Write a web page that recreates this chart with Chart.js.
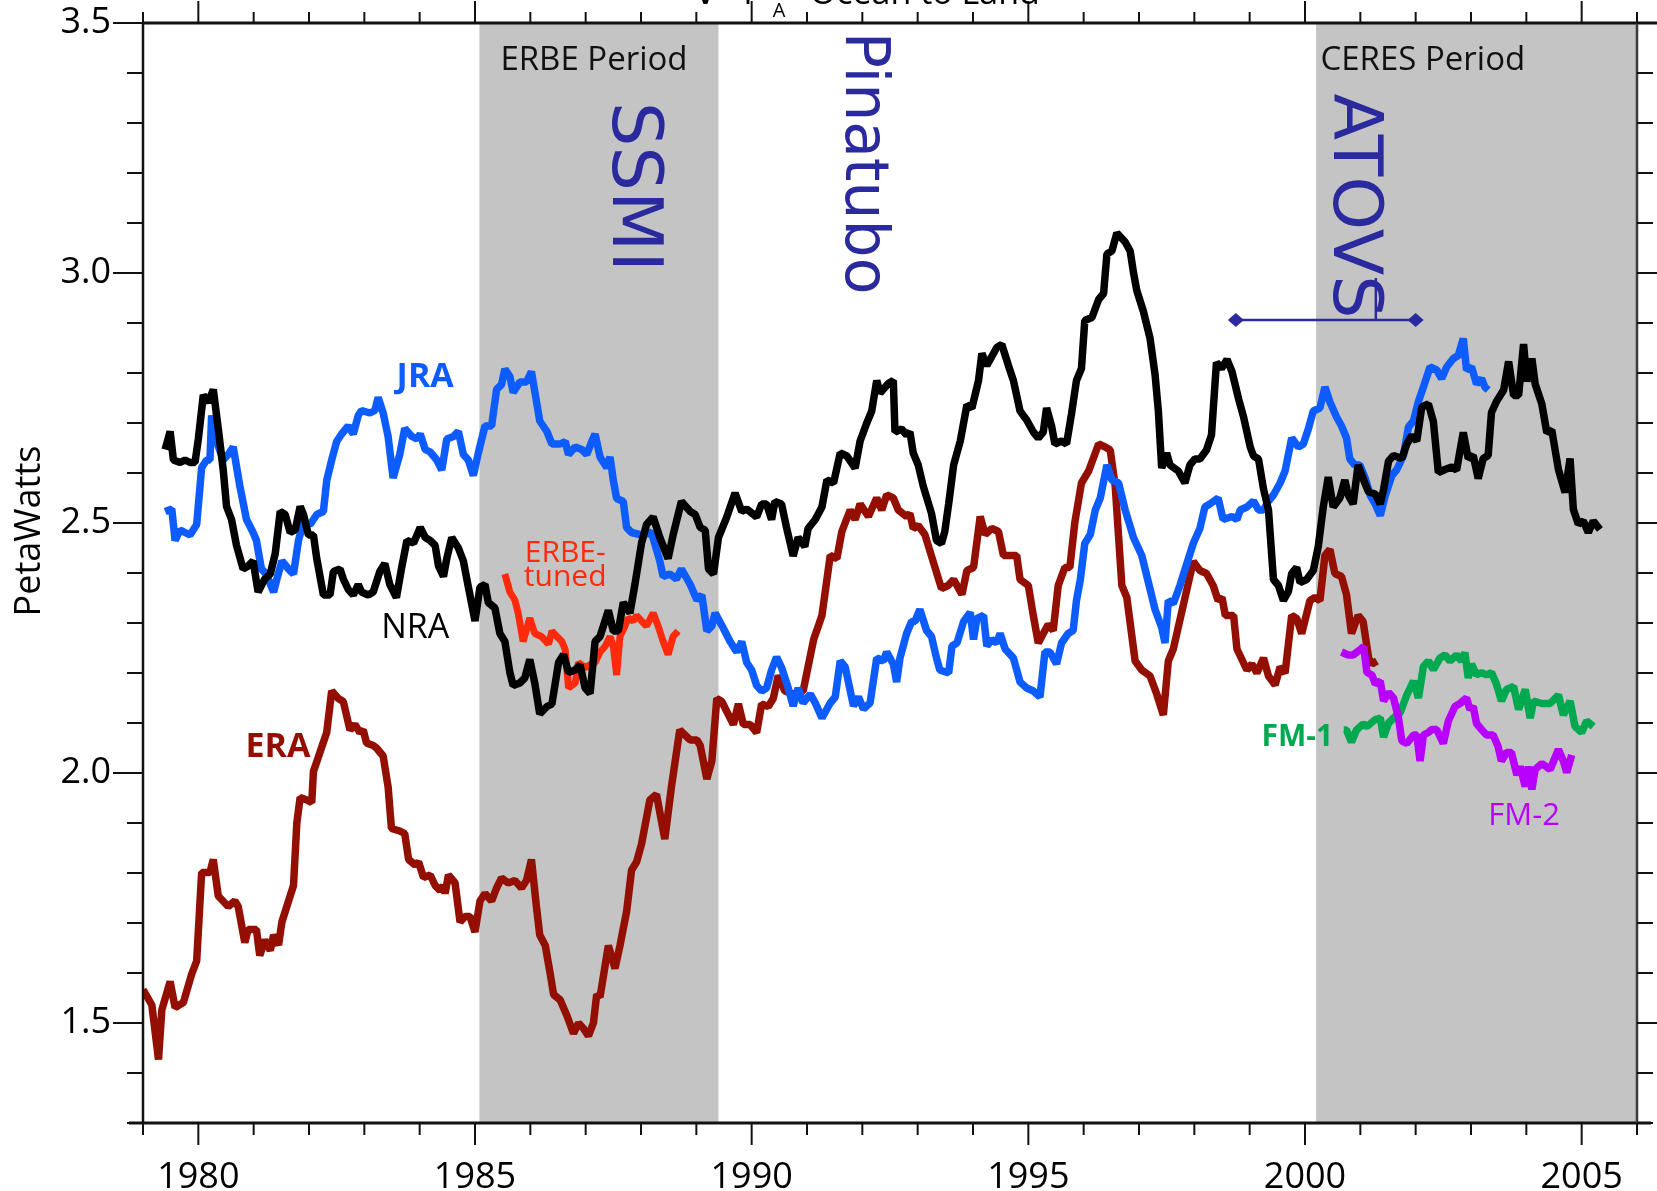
<!DOCTYPE html>
<html>
<head>
<meta charset="utf-8">
<title>Ocean to Land</title>
<script src="https://cdn.jsdelivr.net/npm/chart.js@4.4.1/dist/chart.umd.min.js"></script>
<style>
    html, body { margin: 0; padding: 0; background: #ffffff; }
    #chart { display: block; }
</style>
</head>
<body>
<canvas id="chart" width="1657" height="1191"></canvas>
<script>

// axis ranges
const yearMin = 1979;
const yearMax = 2006;
const valueMin = 1.3;
const valueMax = 3.5;

// observing periods (shaded)
const periodNames = ['ERBE Period', 'CERES Period'];
const periodStarts = [1985.08, 2000.2];
const periodEnds = [1989.4, 2006];

// satellite events
const eventNames = ['SSMI', 'Pinatubo', 'ATOVS'];

// ERA
const eraYears = [
    1979.00, 1979.16, 1979.28, 1979.34, 1979.49, 1979.58, 1979.73, 1979.88, 1979.97, 1980.06,
    1980.21, 1980.27, 1980.36, 1980.54, 1980.66, 1980.72, 1980.84, 1980.90, 1981.05, 1981.11,
    1981.20, 1981.30, 1981.36, 1981.45, 1981.51, 1981.63, 1981.72, 1981.78, 1981.84, 1981.96,
    1982.05, 1982.08, 1982.32, 1982.41, 1982.53, 1982.62, 1982.74, 1982.83, 1982.92, 1982.98,
    1983.04, 1983.16, 1983.22, 1983.34, 1983.43, 1983.49, 1983.64, 1983.73, 1983.80, 1983.92,
    1983.98, 1984.07, 1984.19, 1984.28, 1984.37, 1984.43, 1984.46, 1984.52, 1984.64, 1984.73,
    1984.82, 1984.91, 1985.00, 1985.09, 1985.18, 1985.30, 1985.39, 1985.48, 1985.60, 1985.72,
    1985.84, 1985.93, 1986.02, 1986.11, 1986.17, 1986.27, 1986.36, 1986.42, 1986.54, 1986.66,
    1986.78, 1986.87, 1986.96, 1987.05, 1987.14, 1987.20, 1987.26, 1987.41, 1987.53, 1987.62,
    1987.74, 1987.83, 1987.92, 1988.01, 1988.16, 1988.28, 1988.43, 1988.55, 1988.70, 1988.89,
    1989.01, 1989.07, 1989.19, 1989.28, 1989.37, 1989.46, 1989.55, 1989.67, 1989.76, 1989.85,
    1989.97, 1990.09, 1990.18, 1990.30, 1990.39, 1990.48, 1990.60, 1990.75, 1990.93, 1991.12,
    1991.27, 1991.42, 1991.54, 1991.63, 1991.78, 1991.87, 1991.96, 1992.11, 1992.26, 1992.35,
    1992.44, 1992.56, 1992.65, 1992.80, 1992.86, 1992.92, 1993.01, 1993.13, 1993.28, 1993.43,
    1993.55, 1993.65, 1993.80, 1993.89, 1994.01, 1994.13, 1994.22, 1994.34, 1994.46, 1994.55,
    1994.67, 1994.79, 1994.85, 1995.00, 1995.09, 1995.18, 1995.27, 1995.36, 1995.45, 1995.54,
    1995.66, 1995.75, 1995.84, 1995.96, 1996.09, 1996.27, 1996.39, 1996.48, 1996.57, 1996.69,
    1996.78, 1996.93, 1997.05, 1997.20, 1997.32, 1997.44, 1997.53, 1997.62, 1997.98, 1998.10,
    1998.22, 1998.34, 1998.43, 1998.50, 1998.56, 1998.71, 1998.77, 1998.95, 1999.04, 1999.13,
    1999.25, 1999.34, 1999.46, 1999.55, 1999.64, 1999.76, 1999.85, 1999.94, 2000.09, 2000.18,
    2000.27, 2000.36, 2000.45, 2000.54, 2000.66, 2000.75, 2000.84, 2000.96, 2001.05, 2001.15,
    2001.21, 2001.30
];
const eraValues = [
    1.567, 1.536, 1.427, 1.526, 1.583, 1.531, 1.541, 1.598, 1.624, 1.801,
    1.801, 1.827, 1.754, 1.733, 1.744, 1.733, 1.661, 1.687, 1.687, 1.635,
    1.666, 1.645, 1.676, 1.656, 1.702, 1.744, 1.775, 1.900, 1.951, 1.946,
    1.941, 2.003, 2.081, 2.164, 2.149, 2.143, 2.086, 2.097, 2.081, 2.086,
    2.060, 2.055, 2.050, 2.034, 1.972, 1.889, 1.884, 1.879, 1.827, 1.816,
    1.822, 1.791, 1.796, 1.775, 1.765, 1.775, 1.759, 1.796, 1.780, 1.702,
    1.713, 1.713, 1.682, 1.744, 1.759, 1.744, 1.770, 1.790, 1.780, 1.785,
    1.770, 1.785, 1.827, 1.733, 1.676, 1.655, 1.598, 1.557, 1.546, 1.515,
    1.479, 1.500, 1.489, 1.474, 1.500, 1.557, 1.552, 1.655, 1.609, 1.655,
    1.723, 1.806, 1.822, 1.858, 1.946, 1.957, 1.868, 1.972, 2.086, 2.066,
    2.066, 2.055, 1.988, 2.024, 2.149, 2.143, 2.123, 2.097, 2.138, 2.097,
    2.097, 2.081, 2.138, 2.133, 2.149, 2.195, 2.164, 2.158, 2.164, 2.267,
    2.315, 2.435, 2.429, 2.483, 2.526, 2.507, 2.538, 2.513, 2.550, 2.526,
    2.556, 2.550, 2.526, 2.513, 2.519, 2.489, 2.495, 2.477, 2.423, 2.369,
    2.375, 2.387, 2.357, 2.405, 2.411, 2.513, 2.477, 2.489, 2.483, 2.435,
    2.435, 2.435, 2.387, 2.375, 2.315, 2.260, 2.279, 2.297, 2.285, 2.375,
    2.411, 2.411, 2.501, 2.580, 2.604, 2.658, 2.652, 2.646, 2.574, 2.375,
    2.351, 2.224, 2.206, 2.194, 2.158, 2.116, 2.224, 2.248, 2.423, 2.405,
    2.399, 2.375, 2.345, 2.351, 2.315, 2.315, 2.248, 2.206, 2.218, 2.200,
    2.230, 2.194, 2.176, 2.212, 2.200, 2.315, 2.309, 2.279, 2.345, 2.351,
    2.345, 2.435, 2.447, 2.399, 2.393, 2.357, 2.279, 2.315, 2.303, 2.230,
    2.218, 2.224
];

// NRA
const nraYears = [
    1979.40, 1979.49, 1979.55, 1979.67, 1979.76, 1979.85, 1979.94, 1980.00, 1980.09, 1980.18,
    1980.27, 1980.36, 1980.45, 1980.51, 1980.60, 1980.69, 1980.81, 1980.90, 1980.99, 1981.08,
    1981.20, 1981.30, 1981.39, 1981.48, 1981.57, 1981.66, 1981.75, 1981.84, 1981.90, 1981.99,
    1982.08, 1982.14, 1982.26, 1982.38, 1982.44, 1982.56, 1982.62, 1982.71, 1982.80, 1982.89,
    1982.95, 1983.07, 1983.16, 1983.28, 1983.37, 1983.46, 1983.58, 1983.67, 1983.77, 1983.89,
    1984.01, 1984.10, 1984.19, 1984.28, 1984.34, 1984.43, 1984.49, 1984.58, 1984.70, 1984.79,
    1984.88, 1985.00, 1985.09, 1985.18, 1985.24, 1985.36, 1985.45, 1985.54, 1985.63, 1985.69,
    1985.81, 1985.90, 1985.99, 1986.08, 1986.17, 1986.30, 1986.39, 1986.51, 1986.60, 1986.69,
    1986.81, 1986.90, 1986.99, 1987.08, 1987.17, 1987.26, 1987.41, 1987.50, 1987.59, 1987.68,
    1987.80, 1987.89, 1988.01, 1988.10, 1988.22, 1988.34, 1988.49, 1988.58, 1988.73, 1988.89,
    1988.98, 1989.07, 1989.16, 1989.22, 1989.31, 1989.40, 1989.55, 1989.70, 1989.82, 1989.91,
    1990.09, 1990.18, 1990.27, 1990.36, 1990.42, 1990.54, 1990.63, 1990.75, 1990.84, 1990.96,
    1991.02, 1991.15, 1991.27, 1991.36, 1991.48, 1991.60, 1991.72, 1991.87, 1991.96, 1992.08,
    1992.17, 1992.26, 1992.32, 1992.47, 1992.56, 1992.59, 1992.71, 1992.80, 1992.86, 1992.92,
    1993.01, 1993.10, 1993.25, 1993.34, 1993.43, 1993.49, 1993.56, 1993.65, 1993.77, 1993.89,
    1993.98, 1994.10, 1994.16, 1994.25, 1994.34, 1994.43, 1994.52, 1994.64, 1994.73, 1994.85,
    1994.97, 1995.09, 1995.18, 1995.27, 1995.33, 1995.42, 1995.48, 1995.60, 1995.69, 1995.78,
    1995.87, 1995.96, 1996.02, 1996.15, 1996.27, 1996.36, 1996.42, 1996.51, 1996.60, 1996.75,
    1996.84, 1996.90, 1996.96, 1997.08, 1997.20, 1997.29, 1997.35, 1997.41, 1997.50, 1997.56,
    1997.71, 1997.83, 1997.92, 1998.01, 1998.10, 1998.22, 1998.31, 1998.40, 1998.49, 1998.59,
    1998.68, 1998.80, 1998.89, 1999.01, 1999.07, 1999.16, 1999.25, 1999.34, 1999.43, 1999.52,
    1999.61, 1999.70, 1999.76, 1999.85, 1999.91, 2000.03, 2000.15, 2000.24, 2000.33, 2000.42,
    2000.51, 2000.63, 2000.72, 2000.78, 2000.87, 2000.96, 2001.08, 2001.15, 2001.27, 2001.36,
    2001.42, 2001.51, 2001.60, 2001.75, 2001.84, 2001.93, 2002.02, 2002.11, 2002.23, 2002.32,
    2002.41, 2002.53, 2002.65, 2002.74, 2002.86, 2002.95, 2003.04, 2003.13, 2003.22, 2003.31,
    2003.37, 2003.46, 2003.59, 2003.68, 2003.77, 2003.86, 2003.95, 2004.01, 2004.10, 2004.16,
    2004.28, 2004.37, 2004.46, 2004.58, 2004.70, 2004.79, 2004.85, 2004.94, 2005.03, 2005.12,
    2005.21, 2005.33
];
const nraValues = [
    2.647, 2.683, 2.626, 2.621, 2.626, 2.621, 2.621, 2.668, 2.756, 2.741,
    2.767, 2.689, 2.606, 2.533, 2.507, 2.455, 2.408, 2.414, 2.424, 2.362,
    2.388, 2.398, 2.439, 2.523, 2.517, 2.481, 2.486, 2.533, 2.517, 2.476,
    2.476, 2.429, 2.356, 2.356, 2.403, 2.408, 2.388, 2.367, 2.356, 2.377,
    2.362, 2.356, 2.362, 2.403, 2.419, 2.377, 2.351, 2.408, 2.465, 2.460,
    2.491, 2.471, 2.465, 2.455, 2.414, 2.393, 2.429, 2.471, 2.450, 2.424,
    2.372, 2.304, 2.372, 2.377, 2.341, 2.330, 2.279, 2.263, 2.201, 2.175,
    2.180, 2.190, 2.227, 2.180, 2.118, 2.133, 2.138, 2.221, 2.237, 2.201,
    2.206, 2.216, 2.170, 2.159, 2.263, 2.273, 2.325, 2.284, 2.284, 2.341,
    2.320, 2.377, 2.460, 2.497, 2.512, 2.471, 2.429, 2.476, 2.543, 2.523,
    2.517, 2.491, 2.486, 2.408, 2.398, 2.471, 2.512, 2.560, 2.523, 2.528,
    2.512, 2.538, 2.538, 2.507, 2.543, 2.538, 2.491, 2.434, 2.471, 2.453,
    2.489, 2.507, 2.532, 2.586, 2.580, 2.640, 2.634, 2.610, 2.664, 2.700,
    2.724, 2.785, 2.760, 2.779, 2.785, 2.682, 2.688, 2.676, 2.682, 2.640,
    2.616, 2.574, 2.519, 2.465, 2.459, 2.483, 2.538, 2.616, 2.664, 2.736,
    2.730, 2.785, 2.839, 2.815, 2.833, 2.851, 2.857, 2.815, 2.785, 2.724,
    2.706, 2.682, 2.670, 2.682, 2.730, 2.694, 2.658, 2.664, 2.658, 2.718,
    2.785, 2.809, 2.905, 2.911, 2.947, 2.959, 3.038, 3.044, 3.080, 3.062,
    3.044, 3.001, 2.965, 2.923, 2.869, 2.797, 2.724, 2.610, 2.640, 2.616,
    2.604, 2.580, 2.616, 2.628, 2.628, 2.646, 2.676, 2.821, 2.809, 2.827,
    2.803, 2.748, 2.712, 2.652, 2.634, 2.628, 2.568, 2.526, 2.387, 2.375,
    2.345, 2.363, 2.399, 2.411, 2.381, 2.387, 2.405, 2.453, 2.532, 2.592,
    2.532, 2.550, 2.586, 2.556, 2.538, 2.616, 2.580, 2.562, 2.558, 2.538,
    2.567, 2.624, 2.635, 2.629, 2.658, 2.675, 2.664, 2.732, 2.738, 2.703,
    2.601, 2.607, 2.612, 2.606, 2.681, 2.629, 2.635, 2.589, 2.629, 2.635,
    2.721, 2.743, 2.766, 2.823, 2.755, 2.755, 2.858, 2.783, 2.829, 2.778,
    2.738, 2.681, 2.686, 2.607, 2.561, 2.629, 2.527, 2.498, 2.504, 2.481,
    2.504, 2.487
];

// JRA
const jraYears = [
    1979.40, 1979.52, 1979.58, 1979.67, 1979.85, 1979.97, 1980.06, 1980.15, 1980.21, 1980.24,
    1980.33, 1980.45, 1980.54, 1980.63, 1980.75, 1980.87, 1980.99, 1981.05, 1981.14, 1981.23,
    1981.36, 1981.42, 1981.51, 1981.63, 1981.72, 1981.81, 1981.90, 1982.02, 1982.14, 1982.26,
    1982.32, 1982.41, 1982.50, 1982.59, 1982.71, 1982.80, 1982.89, 1982.95, 1983.10, 1983.19,
    1983.25, 1983.34, 1983.43, 1983.52, 1983.64, 1983.73, 1983.86, 1983.95, 1984.01, 1984.10,
    1984.19, 1984.31, 1984.40, 1984.49, 1984.61, 1984.70, 1984.79, 1984.88, 1984.97, 1985.06,
    1985.18, 1985.30, 1985.39, 1985.48, 1985.54, 1985.63, 1985.69, 1985.81, 1985.93, 1986.02,
    1986.17, 1986.30, 1986.39, 1986.54, 1986.63, 1986.69, 1986.81, 1986.93, 1987.02, 1987.11,
    1987.17, 1987.26, 1987.38, 1987.44, 1987.50, 1987.56, 1987.68, 1987.74, 1987.83, 1988.01,
    1988.19, 1988.34, 1988.40, 1988.52, 1988.64, 1988.73, 1988.89, 1989.01, 1989.10, 1989.19,
    1989.28, 1989.34, 1989.49, 1989.61, 1989.73, 1989.82, 1989.91, 1990.00, 1990.09, 1990.18,
    1990.27, 1990.36, 1990.45, 1990.54, 1990.66, 1990.75, 1990.84, 1990.93, 1991.06, 1991.15,
    1991.27, 1991.42, 1991.51, 1991.60, 1991.69, 1991.84, 1991.93, 1992.02, 1992.14, 1992.26,
    1992.38, 1992.44, 1992.56, 1992.62, 1992.68, 1992.80, 1992.89, 1992.95, 1993.04, 1993.16,
    1993.25, 1993.34, 1993.40, 1993.56, 1993.62, 1993.71, 1993.83, 1993.95, 1994.01, 1994.07,
    1994.19, 1994.25, 1994.34, 1994.43, 1994.49, 1994.58, 1994.73, 1994.85, 1994.97, 1995.09,
    1995.21, 1995.30, 1995.39, 1995.51, 1995.60, 1995.72, 1995.81, 1995.87, 1995.94, 1996.02,
    1996.12, 1996.21, 1996.30, 1996.42, 1996.51, 1996.63, 1996.75, 1996.90, 1997.05, 1997.17,
    1997.29, 1997.41, 1997.47, 1997.53, 1997.62, 1997.74, 1997.86, 1997.98, 1998.10, 1998.19,
    1998.28, 1998.43, 1998.52, 1998.68, 1998.77, 1998.83, 1998.95, 1999.07, 1999.16, 1999.25,
    1999.34, 1999.43, 1999.55, 1999.64, 1999.76, 1999.88, 1999.97, 2000.06, 2000.15, 2000.27,
    2000.36, 2000.45, 2000.57, 2000.66, 2000.75, 2000.81, 2000.90, 2000.99, 2001.09, 2001.18,
    2001.27, 2001.36, 2001.45, 2001.57, 2001.66, 2001.78, 2001.87, 2001.96, 2002.05, 2002.14,
    2002.26, 2002.38, 2002.47, 2002.56, 2002.68, 2002.77, 2002.86, 2002.92, 2003.01, 2003.10,
    2003.19, 2003.25, 2003.31
];
const jraValues = [
    2.523, 2.528, 2.465, 2.486, 2.476, 2.497, 2.611, 2.626, 2.626, 2.715,
    2.663, 2.626, 2.637, 2.652, 2.574, 2.507, 2.481, 2.465, 2.408, 2.398,
    2.362, 2.388, 2.424, 2.408, 2.398, 2.465, 2.502, 2.497, 2.517, 2.523,
    2.585, 2.626, 2.663, 2.678, 2.694, 2.678, 2.715, 2.725, 2.720, 2.725,
    2.751, 2.720, 2.673, 2.590, 2.637, 2.689, 2.673, 2.668, 2.678, 2.647,
    2.642, 2.626, 2.606, 2.668, 2.673, 2.683, 2.637, 2.626, 2.595, 2.640,
    2.694, 2.694, 2.767, 2.777, 2.808, 2.793, 2.761, 2.782, 2.782, 2.803,
    2.704, 2.683, 2.658, 2.658, 2.663, 2.637, 2.652, 2.647, 2.637, 2.663,
    2.678, 2.632, 2.611, 2.632, 2.585, 2.549, 2.543, 2.491, 2.481, 2.476,
    2.481, 2.424, 2.393, 2.398, 2.388, 2.408, 2.377, 2.346, 2.356, 2.284,
    2.294, 2.320, 2.289, 2.263, 2.242, 2.263, 2.221, 2.206, 2.175, 2.164,
    2.170, 2.206, 2.232, 2.211, 2.170, 2.134, 2.170, 2.140, 2.158, 2.140,
    2.110, 2.140, 2.152, 2.224, 2.212, 2.134, 2.152, 2.128, 2.140, 2.230,
    2.224, 2.242, 2.218, 2.182, 2.230, 2.279, 2.303, 2.303, 2.327, 2.285,
    2.273, 2.230, 2.206, 2.200, 2.254, 2.260, 2.303, 2.321, 2.267, 2.309,
    2.315, 2.254, 2.267, 2.260, 2.279, 2.248, 2.230, 2.182, 2.170, 2.164,
    2.152, 2.242, 2.242, 2.218, 2.260, 2.279, 2.285, 2.345, 2.387, 2.459,
    2.477, 2.526, 2.550, 2.616, 2.586, 2.580, 2.526, 2.471, 2.435, 2.381,
    2.327, 2.291, 2.260, 2.345, 2.339, 2.375, 2.417, 2.459, 2.489, 2.532,
    2.538, 2.550, 2.507, 2.513, 2.507, 2.526, 2.532, 2.544, 2.526, 2.526,
    2.544, 2.556, 2.580, 2.604, 2.670, 2.652, 2.658, 2.688, 2.724, 2.730,
    2.772, 2.742, 2.712, 2.694, 2.670, 2.628, 2.616, 2.616, 2.589, 2.555,
    2.538, 2.515, 2.555, 2.595, 2.607, 2.635, 2.692, 2.704, 2.743, 2.772,
    2.812, 2.806, 2.789, 2.812, 2.829, 2.835, 2.869, 2.806, 2.812, 2.778,
    2.789, 2.772, 2.766
];

// ERBE-tuned
const erbeYears = [
    1985.54, 1985.63, 1985.72, 1985.78, 1985.87, 1985.99, 1986.08, 1986.20, 1986.33, 1986.39,
    1986.48, 1986.57, 1986.63, 1986.69, 1986.81, 1986.87, 1986.99, 1987.08, 1987.17, 1987.26,
    1987.35, 1987.44, 1987.50, 1987.56, 1987.62, 1987.71, 1987.77, 1987.86, 1987.92, 1988.01,
    1988.10, 1988.22, 1988.31, 1988.40, 1988.49, 1988.58, 1988.67
];
const erbeValues = [
    2.398, 2.362, 2.346, 2.320, 2.263, 2.310, 2.279, 2.273, 2.258, 2.284,
    2.273, 2.263, 2.247, 2.170, 2.180, 2.221, 2.211, 2.216, 2.221, 2.242,
    2.253, 2.273, 2.253, 2.196, 2.273, 2.294, 2.310, 2.304, 2.315, 2.304,
    2.294, 2.320, 2.294, 2.263, 2.237, 2.273, 2.284
];

// FM-1
const fm1Years = [
    2000.70, 2000.75, 2000.84, 2000.93, 2001.05, 2001.12, 2001.27, 2001.36, 2001.42, 2001.51,
    2001.60, 2001.72, 2001.84, 2001.96, 2002.05, 2002.14, 2002.23, 2002.32, 2002.44, 2002.53,
    2002.62, 2002.74, 2002.83, 2002.89, 2002.95, 2003.01, 2003.10, 2003.19, 2003.28, 2003.37,
    2003.46, 2003.55, 2003.64, 2003.77, 2003.86, 2003.98, 2004.07, 2004.13, 2004.28, 2004.43,
    2004.58, 2004.67, 2004.79, 2004.88, 2005.00, 2005.09, 2005.21
];
const fm1Values = [
    2.086, 2.086, 2.062, 2.086, 2.098, 2.093, 2.107, 2.110, 2.072, 2.100,
    2.110, 2.121, 2.156, 2.184, 2.150, 2.213, 2.224, 2.207, 2.230, 2.236,
    2.224, 2.236, 2.224, 2.241, 2.190, 2.218, 2.196, 2.201, 2.196, 2.201,
    2.178, 2.144, 2.167, 2.173, 2.127, 2.167, 2.110, 2.144, 2.139, 2.139,
    2.156, 2.116, 2.144, 2.093, 2.081, 2.104, 2.093
];

// FM-2
const fm2Years = [
    2000.66, 2000.78, 2000.87, 2001.00, 2001.06, 2001.12, 2001.21, 2001.27, 2001.36, 2001.42,
    2001.51, 2001.60, 2001.69, 2001.75, 2001.84, 2001.96, 2002.02, 2002.08, 2002.14, 2002.23,
    2002.29, 2002.38, 2002.50, 2002.59, 2002.71, 2002.80, 2002.92, 2002.98, 2003.04, 2003.10,
    2003.19, 2003.28, 2003.40, 2003.49, 2003.55, 2003.64, 2003.73, 2003.83, 2003.89, 2003.98,
    2004.04, 2004.10, 2004.16, 2004.28, 2004.43, 2004.58, 2004.67, 2004.73, 2004.82
];
const fm2Values = [
    2.242, 2.236, 2.236, 2.247, 2.253, 2.201, 2.196, 2.178, 2.184, 2.144,
    2.161, 2.150, 2.110, 2.064, 2.059, 2.076, 2.076, 2.024, 2.076, 2.081,
    2.087, 2.087, 2.059, 2.104, 2.133, 2.139, 2.150, 2.127, 2.133, 2.099,
    2.087, 2.076, 2.076, 2.053, 2.024, 2.041, 2.041, 1.996, 2.013, 1.973,
    2.013, 1.967, 2.007, 2.019, 2.007, 2.047, 2.024, 2.001, 2.036
];


const fontFamily = "'Open Sans', 'Noto Sans', sans-serif";
const eventFont = "'DejaVu Sans', sans-serif";

const colorERA = '#930f02';
const colorNRA = '#000000';
const colorJRA = '#0d5cff';
const colorERBE = '#ff2a0c';
const colorFM1 = '#00a84f';
const colorFM2 = '#b700ff';
const colorEvent = '#2a2a9e';
const colorShade = '#c4c4c4';


function toPoints(years, values) {
    let points = [];
    for (let i = 0; i < years.length; i++) {
        points.push({ x: years[i], y: values[i] });
    }
    return points;
}

function lineSet(label, years, values, color, order, width) {
    return {
        label: label,
        data: toPoints(years, values),
        borderColor: color,
        backgroundColor: color,
        borderWidth: width,
        pointRadius: 0,
        tension: 0,
        fill: false,
        order: order,
    };
}


// label placement, in data coordinates
const periodLabelYears = [1987.15, 2002.13];
const periodLabelValue = 3.424;

const eventLabels = [
    { year: 1987.82, value: 3.172, size: 70 },
    { year: 1991.98, value: 3.22, size: 60 },
    { year: 2000.85, value: 3.134, size: 68 },
];

const seriesLabels = [
    { lines: ['JRA'], year: 1984.10, value: 2.792, color: colorJRA, weight: 'bold', size: 34 },
    { lines: ['NRA'], year: 1983.92, value: 2.29, color: colorNRA, weight: 'normal', size: 34 },
    { lines: ['ERBE-', 'tuned'], year: 1986.63, value: 2.44, color: colorERBE, weight: 'normal', size: 30 },
    { lines: ['ERA'], year: 1981.44, value: 2.052, color: colorERA, weight: 'bold', size: 34 },
    { lines: ['FM-1'], year: 1999.86, value: 2.072, color: colorFM1, weight: 'bold', size: 30 },
    { lines: ['FM-2'], year: 2003.96, value: 1.914, color: colorFM2, weight: 'normal', size: 31 },
];


function strokeLine(ctx, x0, y0, x1, y1) {
    ctx.beginPath();
    ctx.moveTo(x0, y0);
    ctx.lineTo(x1, y1);
    ctx.stroke();
}

function isMajorValue(v) {
    return Math.round(v * 10) % 5 === 0;
}


const decorations = {
    id: 'decorations',

    beforeDatasetsDraw(chart) {
        const ctx = chart.ctx;
        const area = chart.chartArea;
        const xs = chart.scales.x;
        const ys = chart.scales.y;
        ctx.save();

        // shaded periods
        ctx.fillStyle = colorShade;
        for (let i = 0; i < periodStarts.length; i++) {
            let x0 = xs.getPixelForValue(periodStarts[i]);
            let x1 = xs.getPixelForValue(periodEnds[i]);
            ctx.fillRect(x0, area.top, x1 - x0, area.bottom - area.top);
        }

        ctx.fillStyle = '#111111';
        ctx.font = '33px ' + fontFamily;
        ctx.textAlign = 'center';
        ctx.textBaseline = 'middle';
        for (let i = 0; i < periodNames.length; i++) {
            ctx.fillText(periodNames[i], xs.getPixelForValue(periodLabelYears[i]), ys.getPixelForValue(periodLabelValue));
        }

        // rotated event names, read top to bottom
        ctx.fillStyle = colorEvent;
        for (let i = 0; i < eventNames.length; i++) {
            let e = eventLabels[i];
            ctx.save();
            ctx.translate(xs.getPixelForValue(e.year), ys.getPixelForValue(e.value));
            ctx.rotate(Math.PI / 2);
            ctx.font = e.size + 'px ' + eventFont;
            ctx.fillText(eventNames[i], 0, 0);
            ctx.restore();
        }
        ctx.restore();
    },

    afterDatasetsDraw(chart) {
        const ctx = chart.ctx;
        const xs = chart.scales.x;
        const ys = chart.scales.y;
        ctx.save();

        // series names
        ctx.textAlign = 'center';
        ctx.textBaseline = 'middle';
        seriesLabels.forEach(lab => {
            ctx.fillStyle = lab.color;
            ctx.font = lab.weight + ' ' + lab.size + 'px ' + fontFamily;
            let px = xs.getPixelForValue(lab.year);
            let py = ys.getPixelForValue(lab.value);
            lab.lines.forEach((t, k) => {
                ctx.fillText(t, px, py + k * lab.size * 0.8);
            });
        });

        // ATOVS bracket
        ctx.strokeStyle = colorEvent;
        ctx.fillStyle = colorEvent;
        ctx.lineWidth = 2.5;
        let bx0 = xs.getPixelForValue(1998.75);
        let bx1 = xs.getPixelForValue(2002.0);
        let by = ys.getPixelForValue(2.906);
        strokeLine(ctx, bx0, by, bx1, by);
        strokeLine(ctx, xs.getPixelForValue(2001.28), ys.getPixelForValue(2.99), xs.getPixelForValue(2001.28), by);
        [bx0, bx1].forEach(bx => {
            ctx.beginPath();
            ctx.moveTo(bx - 8, by);
            ctx.lineTo(bx, by - 7);
            ctx.lineTo(bx + 8, by);
            ctx.lineTo(bx, by + 7);
            ctx.closePath();
            ctx.fill();
        });
        ctx.restore();
    },

    afterDraw(chart) {
        const ctx = chart.ctx;
        const area = chart.chartArea;
        const xs = chart.scales.x;
        const ys = chart.scales.y;
        ctx.save();

        // frame
        ctx.strokeStyle = '#111111';
        ctx.lineWidth = 3;
        strokeLine(ctx, area.left - 14, area.bottom, area.right + 14, area.bottom);
        strokeLine(ctx, area.left, area.top, chart.width, area.top);
        ctx.lineWidth = 2.5;
        strokeLine(ctx, area.left, area.top, area.left, area.bottom);
        ctx.strokeStyle = '#3a3a3a';
        strokeLine(ctx, area.right, area.top, area.right, area.bottom);

        // tick marks, all outward
        ctx.strokeStyle = '#111111';
        ctx.lineWidth = 2;
        xs.ticks.forEach(t => {
            let px = xs.getPixelForValue(t.value);
            let major = t.value % 5 === 0;
            strokeLine(ctx, px, area.bottom, px, area.bottom + (major ? 22 : 12));
            strokeLine(ctx, px, area.top, px, area.top - (major ? 22 : 11));
        });
        ys.ticks.forEach(t => {
            let py = ys.getPixelForValue(t.value);
            let major = isMajorValue(t.value);
            strokeLine(ctx, area.left - (major ? 30 : 16), py, area.left, py);
            strokeLine(ctx, area.right, py, area.right + (major ? 20 : 16), py);
        });

        // y axis title
        ctx.fillStyle = '#000000';
        ctx.save();
        ctx.translate(30, ys.getPixelForValue(2.484));
        ctx.rotate(-Math.PI / 2);
        ctx.font = '36px ' + fontFamily;
        ctx.textAlign = 'center';
        ctx.textBaseline = 'middle';
        ctx.fillText('PetaWatts', 0, 0);
        ctx.restore();

        // title, cut by the top edge
        ctx.textAlign = 'left';
        ctx.textBaseline = 'alphabetic';
        ctx.font = '34px ' + fontFamily;
        ctx.fillText('\u2207 \u00b7 F', xs.getPixelForValue(1988.95), 4);
        ctx.font = '20px ' + fontFamily;
        ctx.fillText('A', xs.getPixelForValue(1990.38), 17);
        ctx.font = '34px ' + fontFamily;
        ctx.fillText('Ocean to Land', xs.getPixelForValue(1991.05), 4);

        ctx.restore();
    }
};


window.onload = function () {
    let ctx = document.getElementById('chart').getContext('2d');
    let chart = new Chart(ctx, {
        type: 'line',
        data: {
            datasets: [
                lineSet('ERA', eraYears, eraValues, colorERA, 6, 7.5),
                lineSet('JRA', jraYears, jraValues, colorJRA, 5, 7.5),
                lineSet('ERBE-tuned', erbeYears, erbeValues, colorERBE, 4, 7),
                lineSet('NRA', nraYears, nraValues, colorNRA, 3, 7.5),
                lineSet('FM-1', fm1Years, fm1Values, colorFM1, 2, 7.5),
                lineSet('FM-2', fm2Years, fm2Values, colorFM2, 1, 7.5),
            ]
        },
        options: {
            responsive: false,
            animation: false,
            layout: {
                padding: { top: 23, right: 20, left: 0, bottom: 0 }
            },
            plugins: {
                legend: { display: false },
                tooltip: { enabled: false },
            },
            elements: {
                line: { borderJoinStyle: 'bevel', borderCapStyle: 'butt' }
            },
            scales: {
                x: {
                    type: 'linear',
                    min: yearMin,
                    max: yearMax,
                    grid: { display: false, drawTicks: false },
                    border: { display: false },
                    afterFit: function (scale) {
                        scale.height = 68;
                        scale.paddingLeft = 0;
                        scale.paddingRight = 0;
                    },
                    ticks: {
                        stepSize: 1,
                        autoSkip: false,
                        maxRotation: 0,
                        padding: 33,
                        color: '#000000',
                        font: { family: fontFamily, size: 36 },
                        callback: function (v) { return v % 5 === 0 ? String(v) : ''; }
                    }
                },
                y: {
                    type: 'linear',
                    min: valueMin,
                    max: valueMax,
                    grid: { display: false, drawTicks: false },
                    border: { display: false },
                    afterFit: function (scale) {
                        scale.width = 143;
                        scale.paddingTop = 0;
                        scale.paddingBottom = 0;
                    },
                    ticks: {
                        stepSize: 0.1,
                        autoSkip: false,
                        padding: 32,
                        color: '#000000',
                        font: { family: fontFamily, size: 36 },
                        callback: function (v) { return isMajorValue(v) ? (Math.round(v * 10) / 10).toFixed(1) : ''; }
                    }
                }
            }
        },
        plugins: [decorations]
    });
};
</script>
</body>
</html>
